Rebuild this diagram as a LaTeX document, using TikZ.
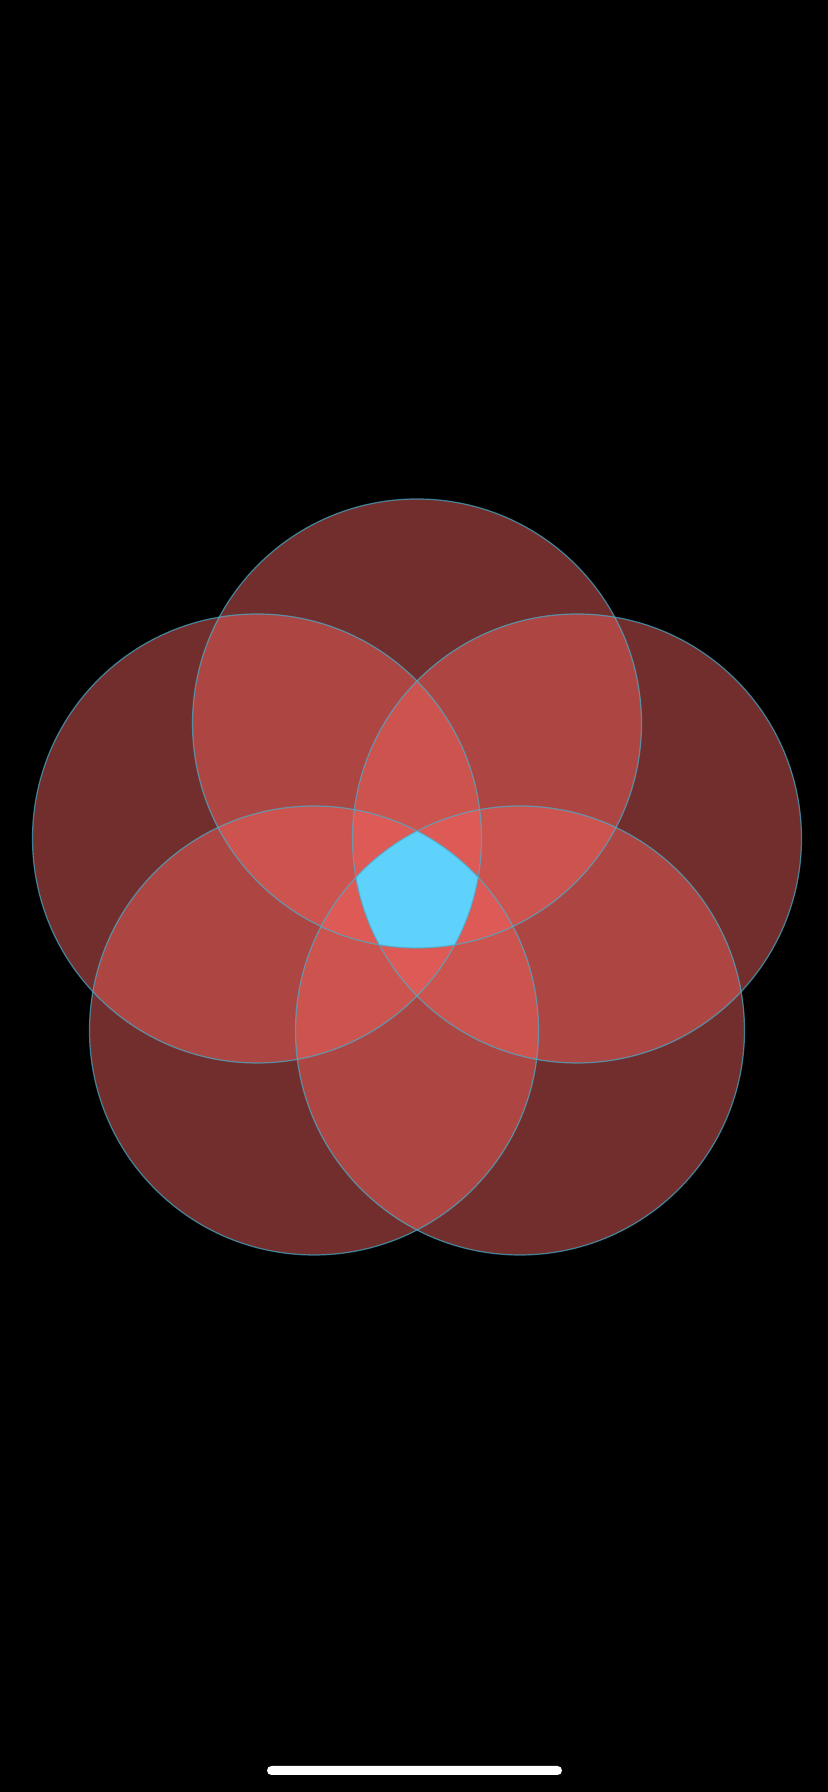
\documentclass[tikz,border=0pt]{standalone}
\usepackage{tikz}
\definecolor{petalred}{RGB}{242,98,94}
\definecolor{coreblue}{RGB}{94,210,250}
\definecolor{rimblue}{RGB}{70,175,205}
\begin{document}
\begin{tikzpicture}[
    x=0.5pt, y=0.5pt,
    petal/.style={fill=petalred, fill opacity=0.47},
    rim/.style={draw=rimblue, draw opacity=0.7, line width=0.6pt},
    homebar/.style={fill=white, rounded corners=2.25pt}]
  % screen
  \fill[black] (0,0) rectangle (828,1792);
  \useasboundingbox (0,0) rectangle (828,1792);
  % centres of the five petals
  \coordinate (ptop) at (417,1068.5);
  \coordinate (pleft) at (257,953.5);
  \coordinate (pright) at (577,953.5);
  \coordinate (pbotl) at (314,761.5);
  \coordinate (pbotr) at (520,761.5);
  \foreach \p in {ptop,pleft,pright,pbotl,pbotr}
    \fill[petal] (\p) circle[radius=112.25pt];
  % where all five meet
  \begin{scope}
    \clip (ptop) circle[radius=112.25pt];
    \clip (pleft) circle[radius=112.25pt];
    \clip (pright) circle[radius=112.25pt];
    \clip (pbotl) circle[radius=112.25pt];
    \clip (pbotr) circle[radius=112.25pt];
    \fill[coreblue] (0,0) rectangle (828,1792);
  \end{scope}
  \foreach \p in {ptop,pleft,pright,pbotl,pbotr}
    \draw[rim] (\p) circle[radius=112.25pt];
  \fill[homebar] (267,17) rectangle (562,26);
\end{tikzpicture}
\end{document}
